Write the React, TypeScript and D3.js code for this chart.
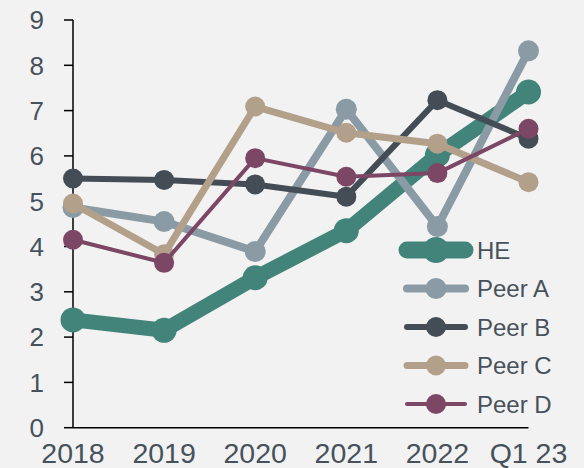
import React from "react";
import * as d3 from "d3";

// categories + series
const years = ["2018", "2019", "2020", "2021", "2022", "Q1 23"];
const he = [2.38, 2.15, 3.31, 4.35, 6.02, 7.41];
const peerA = [4.86, 4.55, 3.89, 7.03, 4.44, 8.32];
const peerB = [5.5, 5.47, 5.37, 5.1, 7.23, 6.38];
const peerC = [4.95, 3.83, 7.09, 6.51, 6.27, 5.42];
const peerD = [4.15, 3.64, 5.95, 5.54, 5.62, 6.6];
const yTicks = [0, 1, 2, 3, 4, 5, 6, 7, 8, 9];

const series = [
  { name: "HE", values: he, color: "#42837a", width: 15, r: 12.5 },
  { name: "Peer A", values: peerA, color: "#8a9ba5", width: 8, r: 10.5 },
  { name: "Peer B", values: peerB, color: "#444c55", width: 6, r: 10 },
  { name: "Peer C", values: peerC, color: "#b3a08b", width: 7, r: 10 },
  { name: "Peer D", values: peerD, color: "#7b4764", width: 4, r: 10 },
];

const W = 584, H = 468;
const textColor = "#47515b";

export default function App() {
  const x = d3.scalePoint<string>().domain(years).range([73, 528.5]).padding(0);
  const y = d3.scaleLinear().domain([0, 9]).range([427.7, 20]);

  const line = (vals: number[]) =>
    d3.line<number>()
      .x((_, i) => x(years[i]) as number)
      .y((d) => y(d))(vals) as string;

  // legend position
  const lgX = 407, lgY = 250, lgStep = 38.5, lgLen = 58;

  return (
    <div style={{ position: "fixed", left: 0, top: 0 }}>
      <svg width={W} height={H} style={{ display: "block", fontFamily: "'Liberation Sans', Arial, sans-serif" }}>
        <rect width={W} height={H} fill="#f2f2f2" />

        {/* y axis */}
        <line x1={73} x2={73} y1={y(9)} y2={y(0)} stroke="#000" strokeWidth={1.5} />
        {yTicks.map((t) => (
          <g key={t}>
            <line x1={64} x2={73} y1={y(t)} y2={y(t)} stroke="#000" strokeWidth={1.5} />
            <text x={44} y={y(t)} dy="0.36em" textAnchor="end" fontSize={26} fill={textColor}>{t}</text>
          </g>
        ))}

        {/* x axis */}
        <line x1={73} x2={528.5} y1={y(0)} y2={y(0)} stroke="#000" strokeWidth={1.5} />
        {years.map((c) => (
          <text key={c} x={x(c)} y={463} textAnchor="middle" fontSize={28.5} fill={textColor}>{c}</text>
        ))}

        {/* lines */}
        {series.map((s) => (
          <g key={s.name}>
            <path d={line(s.values)} fill="none" stroke={s.color} strokeWidth={s.width} strokeLinejoin="round" />
            {s.values.map((v, i) => (
              <circle key={i} cx={x(years[i])} cy={y(v)} r={s.r} fill={s.color} />
            ))}
          </g>
        ))}

        {/* legend */}
        {series.map((s, i) => (
          <g key={s.name} transform={`translate(${lgX},${lgY + i * lgStep})`}>
            <line x1={0} x2={lgLen} y1={0} y2={0} stroke={s.color}
              strokeWidth={s.name === "HE" ? 17 : s.width} strokeLinecap="round" />
            <circle cx={lgLen / 2} cy={0} r={s.name === "HE" ? 13 : s.r} fill={s.color} />
            <text x={70} y={0} dy="0.36em" fontSize={24} fill={textColor}>{s.name}</text>
          </g>
        ))}
      </svg>
    </div>
  );
}
